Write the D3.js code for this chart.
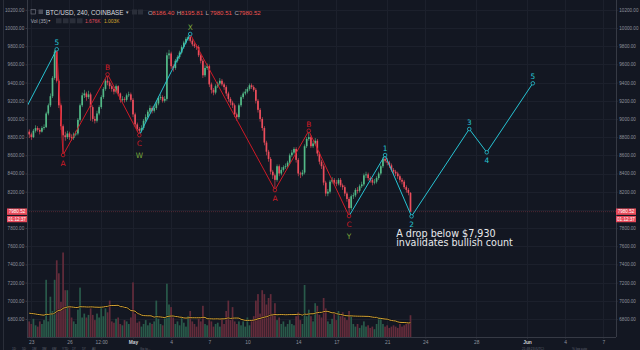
<!DOCTYPE html>
<html><head><meta charset="utf-8">
<script src="https://cdn.jsdelivr.net/npm/d3@7"></script>
<style>
html,body{margin:0;padding:0;background:#131722;overflow:hidden;}
svg{display:block;font-family:"Liberation Sans",Arial,sans-serif;}
</style></head><body>
<svg id="c" width="640" height="350"></svg>
<script>
// ---------- DATA ----------
const firstCandle = "2018-04-22T20:00:00Z";   // 4h candles
const firstOpen = 8860;
const closes = [8830,8800,8870,8900,8880,8860,8900,8910,9060,9150,9250,9450,9740,9420,9150,8920,8820,8800,8840,8800,
8790,8830,8840,8990,9150,9260,9280,9240,9270,9130,9000,8980,9060,9130,9240,9330,9420,9400,9360,9330,
9300,9360,9280,9210,9220,9210,9260,9270,9210,9050,8940,8890,8870,8900,8980,9020,9080,9120,9090,9120,
9170,9230,9240,9200,9220,9700,9720,9580,9560,9640,9680,9730,9790,9840,9880,9900,9860,9820,9800,9790,
9700,9640,9480,9560,9580,9380,9320,9290,9360,9390,9420,9380,9350,9280,9220,9180,9150,9050,9020,9150,
9240,9280,9300,9330,9370,9350,9320,9200,9100,9000,8900,8740,8640,8560,8420,8380,8330,8480,8400,8440,
8470,8480,8520,8600,8630,8670,8550,8400,8390,8410,8700,8780,8800,8700,8730,8760,8620,8530,8480,8300,
8180,8200,8310,8330,8300,8290,8330,8270,8250,8180,8120,8020,8150,8160,8220,8210,8260,8280,8380,8390,
8350,8330,8300,8310,8350,8400,8480,8560,8540,8520,8490,8440,8420,8400,8370,8330,8310,8250,8220,8186.40,
7980.52];
const highs = [8885,8850,8890,8930,8920,8900,8920,8940,9080,9170,9280,9470,9760,9766,9440,9170,8940,8860,8870,8860,
8830,8850,8870,9010,9170,9290,9320,9300,9310,9290,9150,9030,9090,9150,9260,9350,9440,9490,9420,9380,
9350,9380,9370,9290,9250,9240,9280,9300,9290,9230,9070,8960,8910,8930,9000,9050,9100,9150,9140,9150,
9200,9250,9270,9260,9250,9730,9760,9740,9600,9660,9700,9750,9810,9860,9900,9920,9934,9880,9840,9820,
9810,9720,9660,9590,9610,9600,9400,9340,9380,9410,9450,9440,9400,9370,9300,9240,9200,9170,9070,9170,
9260,9300,9330,9350,9390,9390,9370,9340,9220,9120,9020,8920,8760,8660,8580,8440,8400,8500,8500,8470,
8490,8510,8540,8620,8660,8690,8690,8570,8420,8440,8720,8800,8870,8820,8760,8790,8780,8640,8550,8500,
8320,8230,8330,8360,8350,8330,8350,8350,8290,8270,8200,8140,8170,8190,8240,8250,8280,8310,8400,8420,
8410,8370,8350,8340,8370,8420,8500,8580,8603,8570,8540,8510,8460,8440,8420,8390,8350,8330,8270,8240,
8195.81];
const lows = [8790,8770,8790,8850,8860,8830,8850,8880,8900,9040,9130,9230,9430,9400,9120,8880,8603,8760,8780,8770,
8760,8770,8810,8820,8970,9130,9230,9200,9220,8980,8970,8950,8960,9040,9110,9220,9310,9370,9330,9300,
9270,9280,9250,9180,9190,9180,9190,9240,9190,9020,8910,8860,8822,8850,8880,8960,9000,9060,9060,9070,
9100,9150,9210,9180,9180,9200,9660,9550,9520,9540,9620,9660,9710,9770,9820,9860,9840,9800,9780,9760,
9680,9610,9450,9460,9540,9350,9280,9260,9270,9340,9370,9360,9320,9250,9190,9150,9120,9020,8980,9000,
9130,9220,9260,9280,9310,9330,9300,9170,9070,8970,8870,8710,8600,8530,8390,8340,8218,8310,8370,8380,
8420,8450,8460,8500,8580,8610,8520,8370,8350,8370,8390,8680,8760,8680,8680,8710,8590,8500,8450,8270,
8150,8150,8180,8290,8270,8260,8270,8250,8220,8150,8090,7932,8000,8120,8140,8180,8190,8240,8260,8350,
8320,8300,8270,8280,8290,8330,8380,8460,8520,8490,8460,8420,8390,8370,8340,8300,8280,8230,8190,8160,
7980.51];
const volumes = [1.2,1.0,1.4,0.9,0.8,1.2,1.0,1.3,4.4,1.2,3.1,2.0,4.4,5.9,4.9,2.7,6.5,3.6,3.6,2.4,
1.5,1.2,1.0,2.1,3.8,1.5,1.8,1.5,1.7,2.2,1.7,1.3,1.8,1.5,2.3,1.6,2.2,1.9,2.8,1.2,
1.1,1.4,1.5,1.0,0.9,1.3,1.2,1.0,1.5,4.2,1.8,1.1,1.2,0.8,1.0,1.3,0.9,1.1,1.0,1.2,
2.8,1.4,1.0,0.9,1.5,4.1,2.5,2.3,1.5,1.0,1.2,0.9,1.5,1.1,0.8,1.6,2.0,1.2,1.0,0.8,
1.4,1.2,2.4,1.0,0.9,1.3,1.2,0.8,1.0,1.1,0.8,1.4,1.0,2.0,2.8,1.3,2.3,1.2,1.0,1.2,
0.9,1.2,0.8,1.5,0.9,1.3,1.6,2.8,3.3,1.8,3.6,3.3,2.5,3.0,3.3,1.8,2.6,1.3,1.5,1.0,
1.2,0.8,1.0,1.3,1.0,0.9,1.6,1.9,1.3,1.0,4.0,1.6,2.1,1.6,1.2,2.6,2.4,1.7,1.5,3.0,
2.2,1.2,1.0,1.4,1.8,1.3,2.0,1.6,1.9,1.5,1.3,2.0,1.6,1.0,0.8,1.0,0.7,0.9,1.2,0.8,
0.9,0.7,0.8,0.6,1.0,1.5,1.4,1.0,0.8,0.9,0.7,0.8,0.9,0.8,0.7,1.0,0.8,0.9,1.0,1.1,
1.676];
const volMALength = 35;
const volMABeforeStart = 1.85;   // MA level at the left edge

const priceTicks = [6800,7000,7200,7400,7600,7800,8000,8200,8400,8600,8800,9000,9200,9400,9600,9800,10000,10200];
const dateTicks = ["2018-04-23","2018-04-26","2018-04-28T12:00:00Z","2018-05-01","2018-05-04","2018-05-07","2018-05-10",
  "2018-05-14","2018-05-17","2018-05-21","2018-05-24","2018-05-28","2018-06-01","2018-06-04","2018-06-07"];
const dateTickLabels = ["23","26","12:00","May","4","7","10","14","17","21","24","28","Jun","4","7"];

// Elliott wave paths
const tealA_times = ["2018-04-22T16:00:00Z","2018-04-25T00:00:00Z"];
const tealA_prices = [9140,9766];
const redA_times = ["2018-04-25T00:00:00Z","2018-04-25T12:00:00Z","2018-04-29T00:00:00Z","2018-05-01T12:00:00Z"];
const redA_prices = [9766,8603,9490,8822];
const tealB_times = ["2018-05-01T12:00:00Z","2018-05-05T12:00:00Z"];
const tealB_prices = [8822,9934];
const redB_times = ["2018-05-05T12:00:00Z","2018-05-12T04:00:00Z","2018-05-14T20:00:00Z","2018-05-18T00:00:00Z"];
const redB_prices = [9934,8218,8870,7932];
const tealC_times = ["2018-05-18T00:00:00Z","2018-05-20T20:00:00Z","2018-05-22T22:00:00Z","2018-05-27T11:00:00Z","2018-05-28T20:00:00Z","2018-06-01T11:00:00Z"];
const tealC_prices = [7932,8603,7929,8889,8633,9392];

const waveLabels = ["5","A","B","C","X","A","B","C","1","2","3","4","5"];
const waveLabelKinds = ["peak","trough","peak","trough","peak","trough","peak","trough","peak","trough","peak","trough","peak"];
const waveLabelTimes = ["2018-04-25T00:00:00Z","2018-04-25T12:00:00Z","2018-04-29T00:00:00Z","2018-05-01T12:00:00Z",
  "2018-05-05T12:00:00Z","2018-05-12T04:00:00Z","2018-05-14T20:00:00Z","2018-05-18T00:00:00Z",
  "2018-05-20T20:00:00Z","2018-05-22T22:00:00Z","2018-05-27T11:00:00Z","2018-05-28T20:00:00Z","2018-06-01T11:00:00Z"];
const waveLabelPrices = [9766,8603,9490,8822,9934,8218,8870,7932,8603,7929,8889,8633,9392];
const waveLabelGroups = ["impulse","corr","corr","corr","degree","corr","corr","corr","impulse","impulse","impulse","impulse","impulse"];
const degreeLabels = ["W","Y"];
const degreeTimes = ["2018-05-01T12:00:00Z","2018-05-18T00:00:00Z"];
const degreePrices = [8822,7932];

const noteLines = ["A drop below $7,930","invalidates bullish count"];
const noteTime = "2018-05-21T17:00:00Z";

const symbolTitle = "BTC/USD, 240, COINBASE";
const ohlcLetters = ["O","H","L","C"];
const ohlcValues = ["8186.40","8195.81","7980.51","7980.52"];
const lastPrice = 7980.52;
const countdown = "01:12:37";
const volTitle = "Vol (35)";
const volValues = ["1.676K","1.003K"];

// ---------- STYLE ----------
const BG="#131722", GRID="#1c202c", BORDER="#363a45", AXT="#8e929d";
const UP="#53b987", DN="#eb4d5c", VUP="#295a4a", VDN="#632c3b";
const RED="#cf1a26", TEAL="#27c3d3", GREEN="#79a83b", MA="#d8a533";

const svg=d3.select("#c");
const plotL=27, plotR=616, plotB=337;
const parse = s => new Date(s.length===10 ? s+"T00:00:00Z" : s);
const x=d3.scaleUtc().domain([parse("2018-05-01"),parse("2018-06-01")]).range([133,527]);
const y=d3.scaleLinear().domain([6800,10000]).range([319,28]);
const vy=d3.scaleLinear().domain([0,6.5]).range([plotB,252.5]);

svg.append("rect").attr("width",640).attr("height",350).attr("fill",BG);
svg.append("defs").append("clipPath").attr("id","plot").append("rect")
  .attr("x",plotL).attr("y",0).attr("width",plotR-plotL).attr("height",plotB);

// grid
const grid=svg.append("g");
grid.selectAll(".h").data(priceTicks).join("line")
  .attr("x1",plotL).attr("x2",plotR).attr("y1",d=>Math.round(y(d))+0.5).attr("y2",d=>Math.round(y(d))+0.5)
  .attr("stroke",GRID).attr("stroke-width",1);
grid.selectAll(".v").data(dateTicks).join("line")
  .attr("y1",0).attr("y2",plotB).attr("x1",d=>Math.round(x(parse(d)))+0.5).attr("x2",d=>Math.round(x(parse(d)))+0.5)
  .attr("stroke",GRID).attr("stroke-width",1);

// candles data
const t0=parse(firstCandle).getTime();
const candles=closes.map((c,i)=>({t:new Date(t0+i*4*3600e3),o:i?closes[i-1]:firstOpen,c,h:highs[i],l:lows[i],v:volumes[i]}));
candles.forEach((d,i)=>{
  let s=0;
  for(let k=i-volMALength+1;k<=i;k++){s+= k>=0 ? volumes[k] : volMABeforeStart;}
  d.ma=s/volMALength;
});

const plot=svg.append("g").attr("clip-path","url(#plot)");
// volume
plot.append("g").selectAll("rect").data(candles).join("rect")
  .attr("x",d=>x(d.t)-0.85).attr("width",1.7)
  .attr("y",d=>vy(d.v)).attr("height",d=>plotB-vy(d.v))
  .attr("fill",d=>d.c>=d.o?VUP:VDN);
const maLine=d3.line().x(d=>x(d.t)).y(d=>vy(d.ma)).curve(d3.curveMonotoneX);
plot.append("path").datum(candles).attr("d",maLine)
  .attr("fill","none").attr("stroke","#000").attr("stroke-opacity",0.5).attr("stroke-width",2.2);
plot.append("path").datum(candles).attr("d",maLine)
  .attr("fill","none").attr("stroke",MA).attr("stroke-width",1);

// last price line
plot.append("line").attr("x1",plotL).attr("x2",plotR).attr("y1",y(lastPrice)).attr("y2",y(lastPrice))
  .attr("stroke",DN).attr("stroke-opacity",0.35).attr("stroke-width",0.8).attr("stroke-dasharray","1,1");

// candles
const cg=plot.append("g");
cg.selectAll(".w").data(candles).join("rect")
  .attr("x",d=>x(d.t)-0.3).attr("width",0.6)
  .attr("y",d=>y(d.h)).attr("height",d=>Math.max(0.5,y(d.l)-y(d.h)))
  .attr("fill",d=>d.c>=d.o?UP:DN);
cg.selectAll(".b").data(candles).join("rect")
  .attr("x",d=>x(d.t)-0.85).attr("width",1.7)
  .attr("y",d=>y(Math.max(d.o,d.c))).attr("height",d=>Math.max(0.8,Math.abs(y(d.o)-y(d.c))))
  .attr("fill",d=>d.c>=d.o?UP:DN);

// waves
const wl=d3.line().x(d=>x(parse(d[0]))).y(d=>y(d[1]));
function wave(times,prices,col){
  plot.append("path").datum(times.map((t,i)=>[t,prices[i]])).attr("d",wl)
    .attr("fill","none").attr("stroke",col).attr("stroke-width",1);
}
wave(tealA_times,tealA_prices,TEAL);
wave(redA_times,redA_prices,RED);
wave(tealB_times,tealB_prices,TEAL);
wave(redB_times,redB_prices,RED);
wave(tealC_times,tealC_prices,TEAL);

const groupColor={impulse:TEAL,corr:RED,degree:GREEN};
const circleColor=g=> g==="degree"?TEAL:groupColor[g];
plot.append("g").selectAll("circle").data(waveLabels).join("circle")
  .attr("cx",(d,i)=>x(parse(waveLabelTimes[i]))).attr("cy",(d,i)=>y(waveLabelPrices[i]))
  .attr("r",1.8).attr("fill",BG).attr("stroke",(d,i)=>circleColor(waveLabelGroups[i])).attr("stroke-width",0.8);
plot.append("g").selectAll("text").data(waveLabels).join("text")
  .attr("x",(d,i)=>x(parse(waveLabelTimes[i])))
  .attr("y",(d,i)=>y(waveLabelPrices[i])+(waveLabelKinds[i]==="peak"?-4:10.5))
  .attr("text-anchor","middle").attr("font-size",7.4).attr("font-family","DejaVu Sans, sans-serif")
  .attr("fill",(d,i)=>groupColor[waveLabelGroups[i]]).text(d=>d);
plot.append("g").selectAll("text").data(degreeLabels).join("text")
  .attr("x",(d,i)=>x(parse(degreeTimes[i]))).attr("y",(d,i)=>y(degreePrices[i])+23)
  .attr("text-anchor","middle").attr("font-size",7.4).attr("font-family","DejaVu Sans, sans-serif")
  .attr("fill",GREEN).text(d=>d);

// note
svg.append("g").selectAll("text").data(noteLines).join("text")
  .attr("x",x(parse(noteTime))).attr("y",(d,i)=>236.5+i*9.6)
  .attr("font-family","DejaVu Sans, sans-serif").attr("font-size",9.6).attr("fill","#e8e9ec").text(d=>d);

// axes
const fmt=d3.format(".2f");
const hideNearBox = d => Math.abs(y(d)-y(lastPrice))<7;
const ra=svg.append("g").attr("transform",`translate(${plotR},0)`)
  .call(d3.axisRight(y).tickValues(priceTicks).tickFormat(d=>hideNearBox(d)?"":fmt(d)).tickSize(1.5).tickPadding(1.8));
const la=svg.append("g").attr("transform",`translate(${plotL},0)`)
  .call(d3.axisLeft(y).tickValues(priceTicks).tickFormat(d=>hideNearBox(d)?"":fmt(d)).tickSize(1.5).tickPadding(1.3));
const xa=svg.append("g").attr("transform",`translate(0,${plotB})`)
  .call(d3.axisBottom(x).tickValues(dateTicks.map(parse)).tickFormat((d,i)=>dateTickLabels[i]).tickSize(1.5).tickPadding(2.5));
[ra,la,xa].forEach(g=>{
  g.select(".domain").remove();
  g.selectAll(".tick line").attr("stroke",BORDER);
  g.selectAll("text").attr("fill",AXT).attr("font-size",4.6).attr("font-family","Liberation Sans, Arial, sans-serif");
});
xa.selectAll("text").attr("font-size",4.9);
xa.selectAll("text").filter((d,i)=>dateTickLabels[i]==="May"||dateTickLabels[i]==="Jun").attr("fill","#c9ccd4").attr("font-weight","bold");
// borders
svg.append("line").attr("x1",plotL+0.5).attr("x2",plotL+0.5).attr("y1",0).attr("y2",plotB).attr("stroke",BORDER);
svg.append("line").attr("x1",plotR+0.5).attr("x2",plotR+0.5).attr("y1",0).attr("y2",plotB).attr("stroke",BORDER);
svg.append("line").attr("x1",plotL).attr("x2",plotR).attr("y1",plotB+0.5).attr("y2",plotB+0.5).attr("stroke",BORDER);
svg.append("line").attr("x1",3.5).attr("x2",3.5).attr("y1",0).attr("y2",350).attr("stroke","#2a2e39");

// price boxes
[616,7].forEach(bx=>{
  const g=svg.append("g").attr("font-size",4.6).attr("fill","#fff").attr("text-anchor","middle");
  g.append("rect").attr("x",bx).attr("y",y(lastPrice)-3.2).attr("width",20).attr("height",6.4).attr("fill","#e84a5a");
  g.append("text").attr("x",bx+10).attr("y",y(lastPrice)+1.7).text(fmt(lastPrice));
  g.append("rect").attr("x",bx).attr("y",y(lastPrice)+4.4).attr("width",20).attr("height",6.2).attr("fill","#e84a5a");
  g.append("text").attr("x",bx+10).attr("y",y(lastPrice)+9.2).text(countdown);
});

// header
const hd=svg.append("g");
hd.append("rect").attr("x",31).attr("y",9.5).attr("width",4.5).attr("height",4.5).attr("fill","none").attr("stroke","#6a6d78").attr("stroke-width",0.7);
hd.append("rect").attr("x",38.5).attr("y",9.5).attr("width",4.5).attr("height",4.5).attr("fill","#4a4d58");
hd.append("text").attr("x",45.8).attr("y",14.6).attr("font-size",6.3).attr("fill","#d6d8de").text(symbolTitle);
hd.append("text").attr("x",125).attr("y",14).attr("font-size",4.5).attr("fill","#b0b3bc").text("▼");
[132,138].forEach(bx=>hd.append("rect").attr("x",bx).attr("y",9.5).attr("width",5).attr("height",5).attr("fill","#2a2e39"));
ohlcLetters.forEach((l,i)=>{
  const bx=148+i*28.8;
  hd.append("text").attr("x",bx).attr("y",14.6).attr("font-size",6.1).attr("fill","#a9acb6").text(l);
  hd.append("text").attr("x",bx+4.3).attr("y",14.6).attr("font-size",6.1).attr("fill","#ef5350").text(ohlcValues[i]);
});
hd.append("text").attr("x",30.7).attr("y",22.6).attr("font-size",4.9).attr("fill","#a9acb6").text(volTitle);
hd.append("text").attr("x",47.5).attr("y",22.2).attr("font-size",3.6).attr("fill","#a9acb6").text("▼");
[56,63,70,77].forEach(bx=>hd.append("rect").attr("x",bx).attr("y",18.3).attr("width",5.5).attr("height",5).attr("fill","#2a2e39"));
hd.append("text").attr("x",85).attr("y",22.6).attr("font-size",4.9).attr("fill","#e0505e").text(volValues[0]);
hd.append("text").attr("x",104).attr("y",22.6).attr("font-size",4.9).attr("fill","#d4a52d").text(volValues[1]);

// bottom toolbar
const tb=svg.append("g").attr("font-size",3.2).attr("fill","#5f6370");
["1D","5D","1M","3M","6M","YTD","1Y","5Y","All"].forEach((t,i)=>tb.append("text").attr("x",12+i*10).attr("y",349.6).text(t));
tb.append("text").attr("x",140).attr("y",349.6).text("Go to...");
tb.append("text").attr("x",522).attr("y",349.6).text("21:48:23 (UTC)");
tb.append("text").attr("x",572).attr("y",349.6).text("%    log    auto");
</script>
</body></html>
